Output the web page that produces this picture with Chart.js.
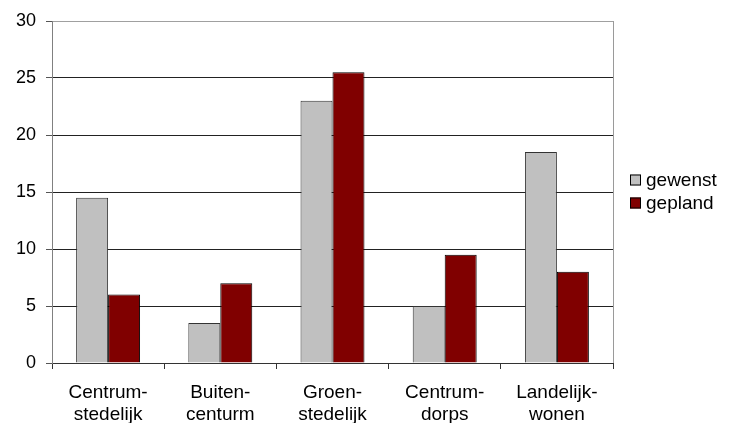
<!DOCTYPE html>
<html>
<head>
<meta charset="utf-8">
<title>gewenst / gepland</title>
<script src="https://cdn.jsdelivr.net/npm/chart.js@4/dist/chart.umd.min.js"></script>
<style>
  html, body { margin: 0; padding: 0; background: #fff; }
  #wrap { width: 735px; height: 423px; }
</style>
</head>
<body>
<div id="wrap"><canvas id="c" width="735" height="423"></canvas></div>
<script>
// Woonmilieus (two-line category labels)
const categories = [
  ['Centrum-', 'stedelijk'],
  ['Buiten-', 'centurm'],
  ['Groen-', 'stedelijk'],
  ['Centrum-', 'dorps'],
  ['Landelijk-', 'wonen']
];
const gewenst = [14.5, 3.5, 23, 5, 18.5];
const gepland = [6, 7, 25.5, 9.5, 8];
const yTicks = [0, 5, 10, 15, 20, 25, 30];

const FONT = "'Liberation Sans', Arial, sans-serif";

// Grey frame on the right of the plot area
const plotFrame = {
  id: 'plotFrame',
  beforeDatasetsDraw(chart) {
    const { ctx, chartArea: a } = chart;
    ctx.save();
    ctx.strokeStyle = '#9a9a9a';
    ctx.lineWidth = 1;
    ctx.beginPath();
    ctx.moveTo(Math.round(a.right) + 0.5, a.top);
    ctx.lineTo(Math.round(a.right) + 0.5, a.bottom);
    ctx.stroke();
    ctx.restore();
  }
};

// Legend on the right, built from the datasets
const sideLegend = {
  id: 'sideLegend',
  afterDraw(chart) {
    const { ctx, chartArea: a } = chart;
    const sets = chart.data.datasets;
    const rowH = 23;
    const box = 11;
    const x0 = a.right + 17;
    const yMid = (a.top + a.bottom) / 2;
    const yStart = yMid - (rowH * (sets.length - 1)) / 2;
    ctx.save();
    ctx.font = '19px ' + FONT;
    ctx.textBaseline = 'middle';
    ctx.textAlign = 'left';
    sets.forEach((ds, i) => {
      const y = Math.round(yStart + i * rowH);
      ctx.fillStyle = ds.backgroundColor;
      ctx.fillRect(x0, y - box / 2 - 1, box, box);
      ctx.strokeStyle = '#000';
      ctx.lineWidth = 1;
      ctx.strokeRect(x0 + 0.5, y - box / 2 - 0.5, box - 1, box - 1);
      ctx.fillStyle = '#000';
      ctx.fillText(ds.label, x0 + box + 5, y);
    });
    ctx.restore();
  }
};

new Chart(document.getElementById('c'), {
  type: 'bar',
  data: {
    labels: categories,
    datasets: [
      {
        label: 'gewenst',
        data: gewenst,
        backgroundColor: '#C0C0C0',
        borderColor: '#333333',
        borderWidth: 1,
        categoryPercentage: 0.57,
        barPercentage: 1.0
      },
      {
        label: 'gepland',
        data: gepland,
        backgroundColor: '#800000',
        borderColor: '#000000',
        borderWidth: 1,
        categoryPercentage: 0.57,
        barPercentage: 1.0
      }
    ]
  },
  options: {
    responsive: false,
    animation: false,
    devicePixelRatio: 1,
    layout: { padding: { left: 0, right: 122, top: 21, bottom: 0 } },
    plugins: {
      legend: { display: false },
      tooltip: { enabled: false }
    },
    scales: {
      x: {
        offset: true,
        afterFit(scale) { scale.height = 60; },
        grid: {
          offset: true,
          drawOnChartArea: false,
          drawTicks: true,
          tickLength: 6,
          tickColor: '#333333'
        },
        border: { display: true, color: '#333333', width: 1 },
        ticks: {
          color: '#000',
          padding: 13,
          maxRotation: 0,
          autoSkip: false,
          font: { family: FONT, size: 19, lineHeight: 1.15 }
        }
      },
      y: {
        min: 0,
        max: 30,
        afterFit(scale) { scale.width = 52; },
        afterBuildTicks(scale) { scale.ticks = yTicks.map(v => ({ value: v })); },
        grid: {
          color: (c) => (c.tick && c.tick.value === 30 ? '#a0a0a0' : '#222222'),
          tickColor: '#555555',
          tickLength: 6,
          lineWidth: 1
        },
        border: { display: true, color: '#808080', width: 1 },
        ticks: {
          color: '#000',
          padding: 10,
          font: { family: FONT, size: 18 }
        }
      }
    }
  },
  plugins: [plotFrame, sideLegend]
});
</script>
</body>
</html>
